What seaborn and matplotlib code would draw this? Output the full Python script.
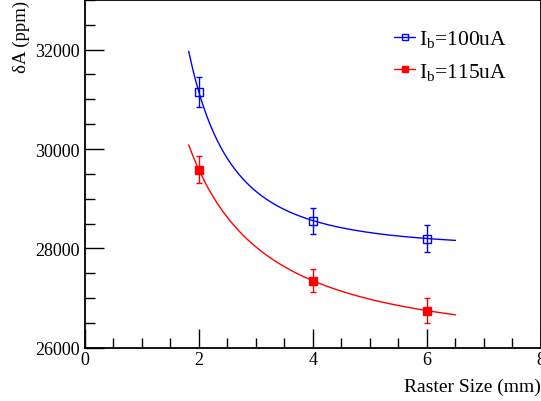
import numpy as np
import pandas as pd
import seaborn as sns
from matplotlib import pyplot as plt
from matplotlib.lines import Line2D
from matplotlib.ticker import MultipleLocator

# measured points
raster = [2, 4, 6]
dA_100 = [31140, 28560, 28200]
err_100 = [300, 260, 270]
dA_115 = [29580, 27350, 26750]
err_115 = [270, 230, 245]
fit_range = (1.82, 6.5)

labels = ['I$_{\\mathrm{b}}$=100uA', 'I$_{\\mathrm{b}}$=115uA']
colors = ['#0000ff', '#ff0000']

sns.set_style('ticks', {'axes.edgecolor': 'black', 'text.color': 'black',
                        'xtick.color': 'black', 'ytick.color': 'black',
                        'axes.labelcolor': 'black'})
plt.rcParams['font.family'] = ['Liberation Serif', 'DejaVu Serif']
plt.rcParams['mathtext.fontset'] = 'custom'
plt.rcParams['mathtext.rm'] = 'Liberation Serif'


def fit_power(x, y):
    # y = a + b * x^-c through the three points
    x = np.asarray(x, float)
    y = np.asarray(y, float)
    target = (y[0] - y[1]) / (y[1] - y[2])
    lo, hi = 0.01, 10.0
    for _ in range(100):
        c = 0.5 * (lo + hi)
        r = (x[0]**-c - x[1]**-c) / (x[1]**-c - x[2]**-c)
        if r < target:
            lo = c
        else:
            hi = c
    b = (y[0] - y[1]) / (x[0]**-c - x[1]**-c)
    a = y[1] - b * x[1]**-c
    return a, b, c


fig = plt.figure(figsize=(5.41, 4.02), dpi=100)
ax = fig.add_axes([0.157, 0.132, 0.843, 0.866])

xs = np.linspace(*fit_range, 200)
for y, e, col, filled in [(dA_100, err_100, colors[0], False),
                          (dA_115, err_115, colors[1], True)]:
    a, b, c = fit_power(raster, y)
    curve = pd.DataFrame({'x': xs, 'y': a + b * xs**-c})
    sns.lineplot(data=curve, x='x', y='y', color=col, lw=1, ax=ax)
    ax.errorbar(raster, y, yerr=e, fmt='s', ms=5.5, mew=1,
                mfc=col if filled else 'none', mec=col, ecolor=col,
                elinewidth=1, capsize=2, capthick=1, zorder=3)

ax.set_xlim(0, 8)
ax.set_ylim(26000, 33000)
ax.xaxis.set_major_locator(MultipleLocator(2))
ax.xaxis.set_minor_locator(MultipleLocator(0.5))
ax.yaxis.set_major_locator(MultipleLocator(2000))
ax.yaxis.set_minor_locator(MultipleLocator(500))
ax.tick_params(which='both', direction='in', width=1, labelsize=13)
ax.tick_params(axis='y', pad=4)
ax.tick_params(axis='x', pad=2)
ax.tick_params(which='major', length=14)
ax.tick_params(which='minor', length=7)
for s in ax.spines.values():
    s.set_linewidth(1.3)

ax.set_xlabel('Raster Size (mm)', fontsize=14, loc='right')
ax.set_ylabel('δA (ppm)', fontsize=13.5, loc='top')
ax.xaxis.set_label_coords(1.0, -0.085)
ax.yaxis.set_label_coords(-0.12, 1.0)

handles = [Line2D([], [], color=colors[0], marker='s', mfc='none', ms=5, lw=1),
           Line2D([], [], color=colors[1], marker='s', ms=5, lw=1)]
ax.legend(handles, labels, loc='upper left', bbox_to_anchor=(0.654, 0.948),
          frameon=False, fontsize=15.5, handlelength=1.0, handletextpad=0.15,
          labelspacing=0.5, borderpad=0)

fig.savefig('out.png', dpi=100)
